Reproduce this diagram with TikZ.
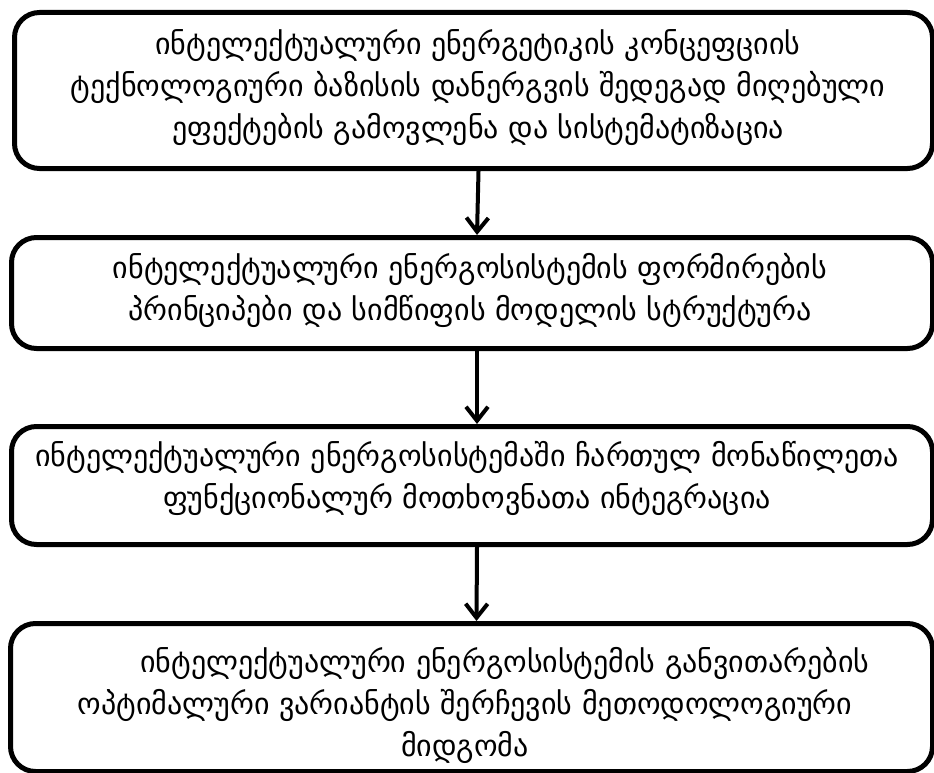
\documentclass[tikz,border=0pt]{standalone}
\usepackage{fontspec}
\newfontfamily\geo{DejaVu Sans}
\usetikzlibrary{arrows.meta}
\begin{document}
\begin{tikzpicture}[x=1pt,y=1pt,
  box/.style={draw=black,line width=5pt,rounded corners=25pt,inner sep=0pt,anchor=north west},
  txt/.style={align=center,font=\geo\fontsize{30}{42}\selectfont,inner sep=0pt},
  conn/.style={line width=4pt,-{Straight Barb[length=14pt,width=22pt,line width=4pt]}}]
\useasboundingbox (0,0) rectangle (934,-773);
\node[box,minimum width=918pt,minimum height=156pt] (b1) at (12,-10) {};
\node[box,minimum width=921pt,minimum height=111pt] (b2) at (9,-235) {};
\node[box,minimum width=921pt,minimum height=118pt] (b3) at (9,-424) {};
\node[box,minimum width=922pt,minimum height=148pt] (b4) at (8,-621) {};
\node[txt] (t1) at (478,-88) {ინტელექტუალური ენერგეტიკის კონცეფციის\\ტექნოლოგიური ბაზისის დანერგვის შედეგად მიღებული\\ეფექტების გამოვლენა და სისტემატიზაცია};
\node[txt] (t2) at (470,-290) {ინტელექტუალური ენერგოსისტემის ფორმირების\\პრინციპები და სიმწიფის მოდელის სტრუქტურა};
\node[txt] (t3) at (467,-478) {ინტელექტუალური ენერგოსისტემაში ჩართულ მონაწილეთა\\ფუნქციონალურ მოთხოვნათა ინტეგრაცია};
\node[txt] (t4) at (465,-705) {\hspace*{80pt}ინტელექტუალური ენერგოსისტემის განვითარების\\ოპტიმალური ვარიანტის შერჩევის მეთოდოლოგიური\hspace*{95pt}\\მიდგომა};
\draw[conn] ([xshift=5pt]b1.south) -- ([xshift=5pt]b2.north);
\draw[conn] ([xshift=5pt]b2.south) -- ([xshift=5pt]b3.north);
\draw[conn] ([xshift=5pt]b3.south) -- ([xshift=5pt]b4.north);
\end{tikzpicture}
\end{document}
